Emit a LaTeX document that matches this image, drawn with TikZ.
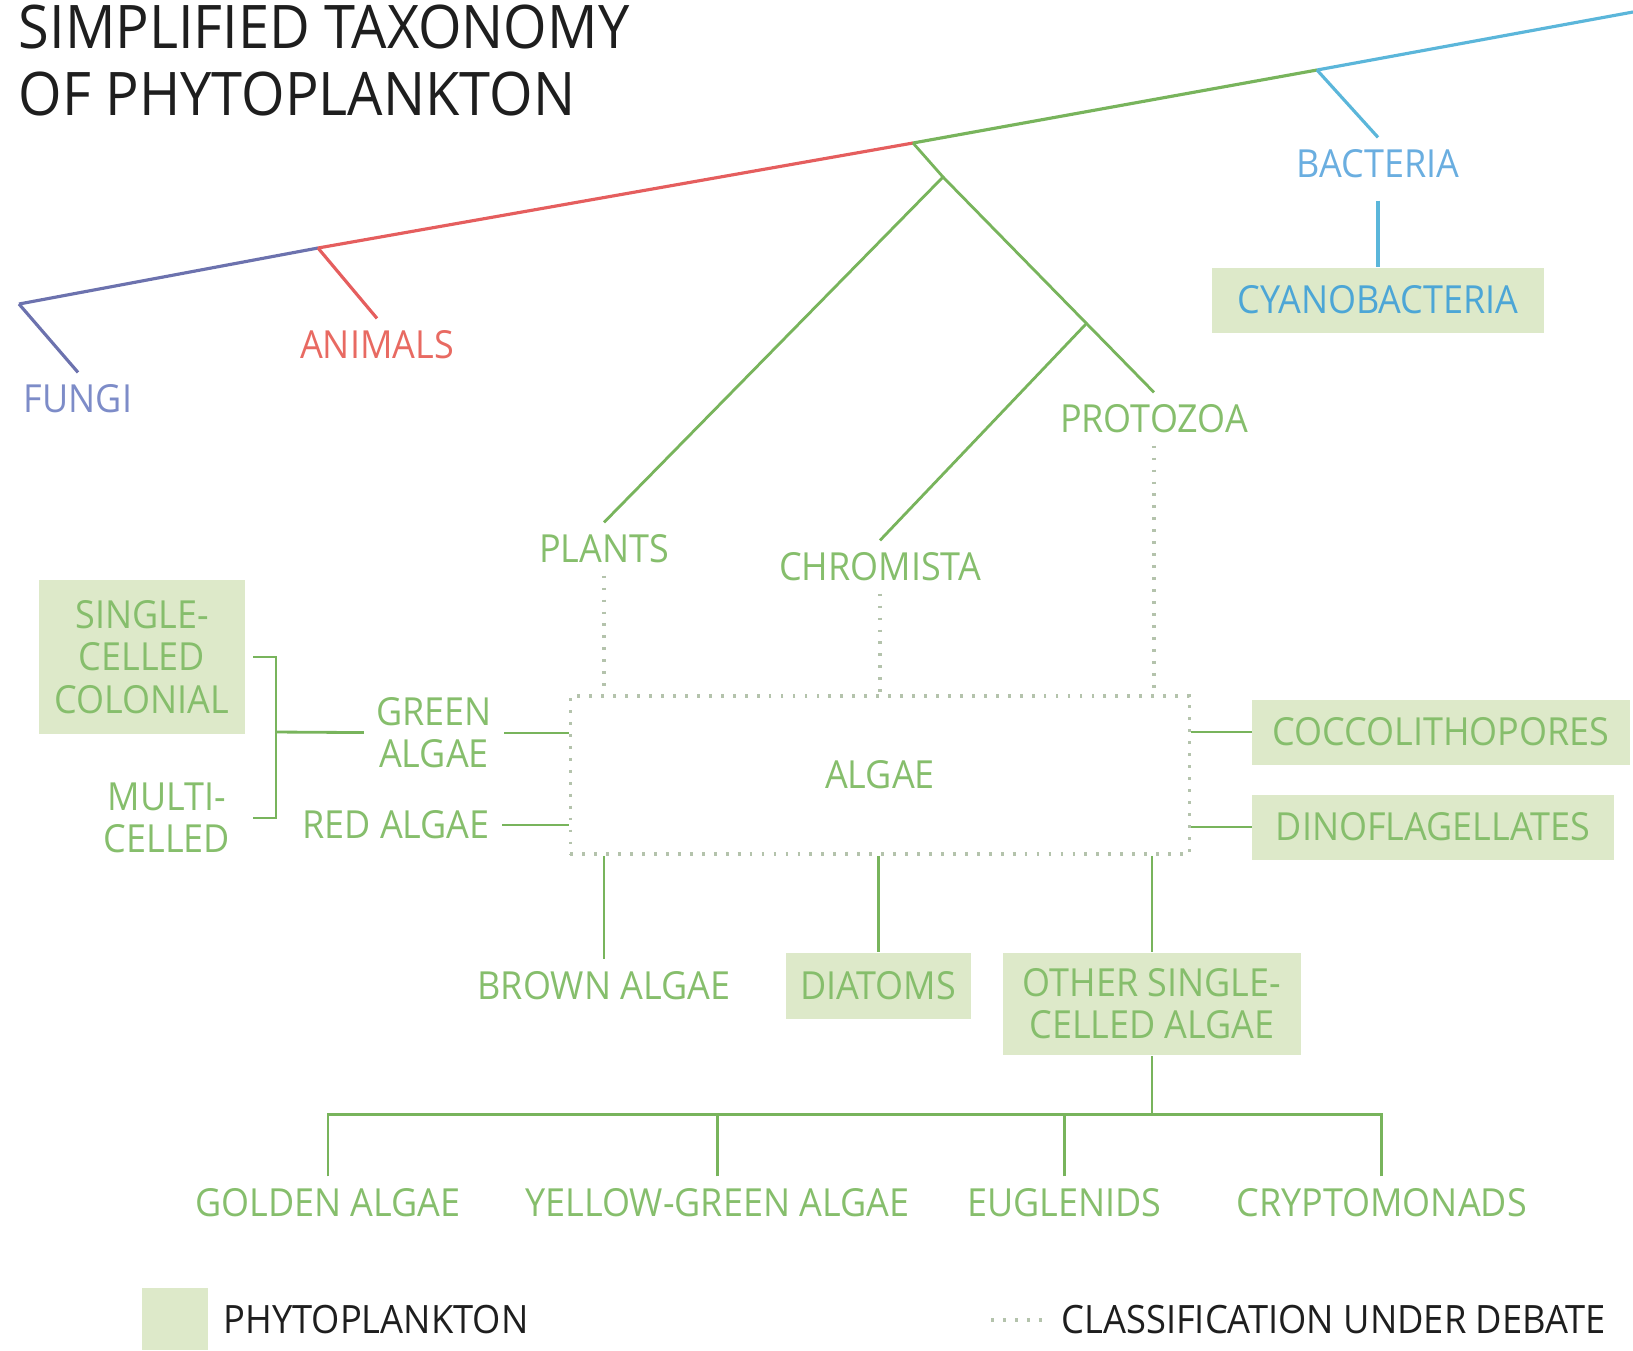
\documentclass[tikz,border=0pt]{standalone}
\usepackage{fontspec}
\setmainfont{Open Sans}[FakeStretch=0.93]
\usetikzlibrary{positioning,calc}

\definecolor{inkdark}{HTML}{1E1E1E}
\definecolor{leaf}{HTML}{78B45C}
\definecolor{leaftext}{HTML}{86BE6C}
\definecolor{plkfill}{HTML}{DDE9C9}
\definecolor{fungiblue}{HTML}{6C72AE}
\definecolor{fungitext}{HTML}{7D8CC8}
\definecolor{animalred}{HTML}{E55E5E}
\definecolor{animaltext}{HTML}{E86A62}
\definecolor{bactblue}{HTML}{5BB6DA}
\definecolor{bacttext}{HTML}{6AAEE0}
\definecolor{cyantext}{HTML}{4CA6D6}
\definecolor{debategrey}{HTML}{B4C3AC}

\tikzset{
  trunk/.style={line width=0.9pt},
  branch/.style={draw=leaf, line width=0.8pt},
  debate/.style={draw=debategrey, line width=1pt, dash pattern=on 0.8pt off 2.6pt},
  lbl/.style={text=leaftext, font=\fontsize{11}{12}\selectfont, align=center},
  plk/.style={lbl, fill=plkfill},
  legtxt/.style={text=inkdark, font=\fontsize{11.1}{12}\selectfont},
}

\begin{document}
\begin{tikzpicture}[x=0.01cm,y=-0.01cm,node distance=2cm,on grid]
\useasboundingbox (0,0) rectangle (1633,1350);

\node[anchor=north west, align=left, inner sep=0, text=inkdark,
  font=\fontsize{17.1}{19.2}\selectfont] (title) at (18,4)
  {SIMPLIFIED TAXONOMY\\OF PHYTOPLANKTON};

% the trunk
\coordinate (root) at (19,304);
\coordinate (anij) at (318,248);
\coordinate (grnj) at (913,143);
\coordinate (bacj) at (1317,70);
\coordinate (tip) at (1633,12);
\draw[trunk, fungiblue] (root) -- (anij);
\draw[trunk, animalred] (anij) -- (grnj);
\draw[trunk, leaf] (grnj) -- (bacj);
\draw[trunk, bactblue] (bacj) -- (tip);

\node[lbl, text=fungitext] (fungi) at (78,399) {FUNGI};
\node[lbl, text=animaltext] (animals) at (377,345) {ANIMALS};
\node[lbl, text=bacttext] (bacteria) at (1378,164) {BACTERIA};
\node[plk, text=cyantext, minimum width=3.31cm, minimum height=0.65cm,
  below=1.36cm of bacteria] (cyano) {CYANOBACTERIA};

\draw[trunk, fungiblue] (root) -- (fungi.north);
\draw[trunk, animalred] (anij) -- (animals.north);
\draw[trunk, bactblue] (bacj) -- (bacteria.north);
\draw[trunk, bactblue, shorten <=0.1cm] (bacteria) -- (cyano);

% plants, chromista, protozoa
\coordinate (gspl) at (943,177);
\node[lbl] (plants) at (604,549) {PLANTS};
\node[lbl] (chrom) at (880,567) {CHROMISTA};
\node[lbl] (proto) at (1154,419) {PROTOZOA};
\draw[branch] (grnj) -- (gspl) -- (plants.north);
\draw[branch] (gspl) -- (proto.north);
\coordinate (cspl) at ($(gspl)!0.68!(proto.north)$);
\draw[branch] (cspl) -- (chrom.north);

% algae
\node[lbl, debate, minimum width=6.19cm, minimum height=1.58cm] (algae) at (880,775) {ALGAE};
\draw[debate] (plants) -- (plants |- algae.north);
\draw[debate] (chrom) -- (chrom |- algae.north);
\draw[debate] (proto) -- (proto |- algae.north);

% left side
\node[lbl] (green) at (434,733) {GREEN\\ALGAE};
\node[lbl] (red) at (396,825) {RED ALGAE};
\draw[branch] (green) -- (green -| algae.west);
\draw[branch] (red) -- (red -| algae.west);

\node[plk, minimum width=2.05cm, minimum height=1.54cm] (scc) at (142,657) {SINGLE-\\CELLED\\COLONIAL};
\node[lbl] (multi) at (167,818) {MULTI-\\CELLED};
\coordinate (brk) at (276,732);
\draw[branch] (scc.east -| brk) ++(-23,0) -- (scc.east -| brk) -- (multi.east -| brk) -- ++(-23,0);
\draw[branch] (brk) -- (green);

% right side
\node[plk, minimum width=3.77cm, minimum height=0.65cm] (cocco) at (1441,732) {COCCOLITHOPORES};
\node[plk, minimum width=3.61cm, minimum height=0.65cm] (dino) at (1433,827) {DINOFLAGELLATES};
\draw[branch] (cocco -| algae.east) -- (cocco);
\draw[branch] (dino -| algae.east) -- (dino);

% below algae
\node[lbl] (brown) at (604,986) {BROWN ALGAE};
\node[plk, minimum width=1.85cm, minimum height=0.66cm, right=2.74cm of brown] (diatoms) {DIATOMS};
\node[plk, minimum width=2.98cm, minimum height=1.02cm] (other) at (1152,1004) {OTHER SINGLE-\\CELLED ALGAE};
\draw[branch] (brown |- algae.south) -- (brown);
\draw[branch] (diatoms |- algae.south) -- (diatoms);
\draw[branch] (other |- algae.south) -- (other);

\node[lbl] (golden) at (328,1203) {GOLDEN ALGAE};
\node[lbl, right=3.89cm of golden] (yellow) {YELLOW-GREEN ALGAE};
\node[lbl, right=3.47cm of yellow] (eugl) {EUGLENIDS};
\node[lbl, right=3.17cm of eugl] (crypto) {CRYPTOMONADS};
\coordinate (hub) at ($(other.south)+(0,59)$);
\draw[branch] (other) -- (hub);
\foreach \c in {golden,yellow,eugl,crypto}
  \draw[branch] (\c) |- (hub);

% legend
\node[plk, minimum width=0.65cm, minimum height=0.62cm] (legbox) at (175,1319) {};
\node[legtxt, anchor=west] (legplk) at (211,1320) {PHYTOPLANKTON};
\coordinate (legdot) at (991,1320);
\node[legtxt, anchor=west] (legdeb) at (1049,1320) {CLASSIFICATION UNDER DEBATE};
\draw[debate] (legdot) -- (legdeb);
\end{tikzpicture}
\end{document}
